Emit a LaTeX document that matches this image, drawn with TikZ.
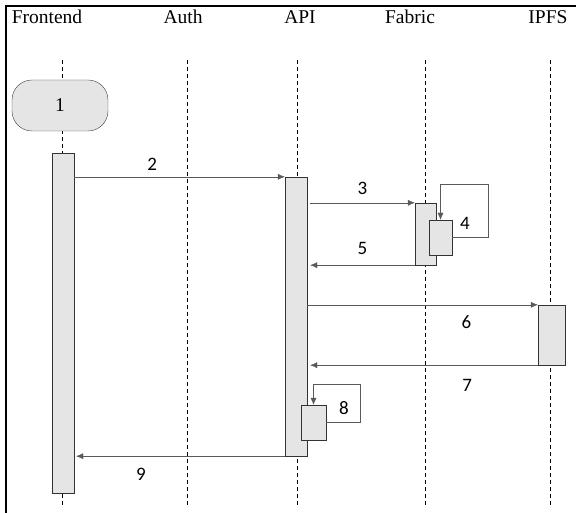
\documentclass[tikz,border=0pt]{standalone}
\usepackage{fontspec}
\setmainfont{Liberation Serif}
\newfontfamily\numfont{Carlito}
\usetikzlibrary{arrows.meta,positioning}
\tikzset{
  bar/.style={draw=black!80,fill=black!10,inner sep=0pt},
  msg/.style={draw=black!65,-{Latex[length=7pt,width=6pt]}},
  head/.style={font=\fontsize{19.5}{22}\selectfont},
  num/.style={font=\numfont\fontsize{19}{22}\selectfont,inner sep=0pt},
}
\begin{document}
\begin{tikzpicture}[x=1pt,y=-1pt]
  \useasboundingbox (0,0) rectangle (576,513);
  \draw[line width=2pt] (6,513) -- (6,6) -- (576,6);
  % lifelines and headers
  \foreach \n/\x/\hx/\t in {fe/62/47/Frontend, au/187/183/Auth, api/297/300/API, fab/425/410/Fabric, ipfs/550/548/IPFS} {
    \node[head] (h\n) at (\hx,17) {\t};
    \draw[dashed,dash pattern=on 4pt off 3pt] (\x,60) -- (\x,505);
  }
  \node[draw=black!75,fill=black!10,rounded corners=20pt,minimum width=96pt,minimum height=51pt,head] (start) at (60,105.5) {1};
  % activations
  \node[bar,minimum width=22pt,minimum height=340pt] (febar) at (63,323) {};
  \node[bar,minimum width=22pt,minimum height=279pt] (apibar) at (296,316.5) {};
  \node[bar,minimum width=21pt,minimum height=62pt] (fabbar) at (425.5,234) {};
  \node[bar,minimum width=23pt,minimum height=35pt] (fabself) at (440.5,237.5) {};
  \node[bar,minimum width=27pt,minimum height=60pt] (ipfsbar) at (551.5,335) {};
  \node[bar,minimum width=25pt,minimum height=35pt] (apiself) at (313.5,422.5) {};
  % messages
  \draw[msg] (febar.east |- apibar.north) -- (apibar.north west) node[num,pos=0.37,above=6pt] {2};
  \draw[msg] ([xshift=3pt]apibar.east |- fabbar.north) -- (fabbar.north west) node[num,midway,above=8pt] {3};
  \draw[msg] (fabself.east) -- ++(36,0) -- ++(0,-53) -| (fabself.north);
  \node[num] (l4) at (465,223) {4};
  \draw[msg] (fabbar.south west) -- ([xshift=3pt]apibar.east |- fabbar.south) node[num,midway,above=10pt] {5};
  \draw[msg] (apibar.east |- ipfsbar.north) -- (ipfsbar.north west) node[num,pos=0.69,below=11pt] {6};
  \draw[msg] (ipfsbar.south west) -- ([xshift=3pt]apibar.east |- ipfsbar.south) node[num,pos=0.31,below=14pt] {7};
  \draw[msg] (apiself.east) -- ++(34,0) -- ++(0,-38) -| (apiself.north);
  \node[num] (l8) at (344,408) {8};
  \draw[msg] (apibar.south west) -- ([xshift=2pt]febar.east |- apibar.south) node[num,pos=0.69,below=12pt] {9};
\end{tikzpicture}
\end{document}
